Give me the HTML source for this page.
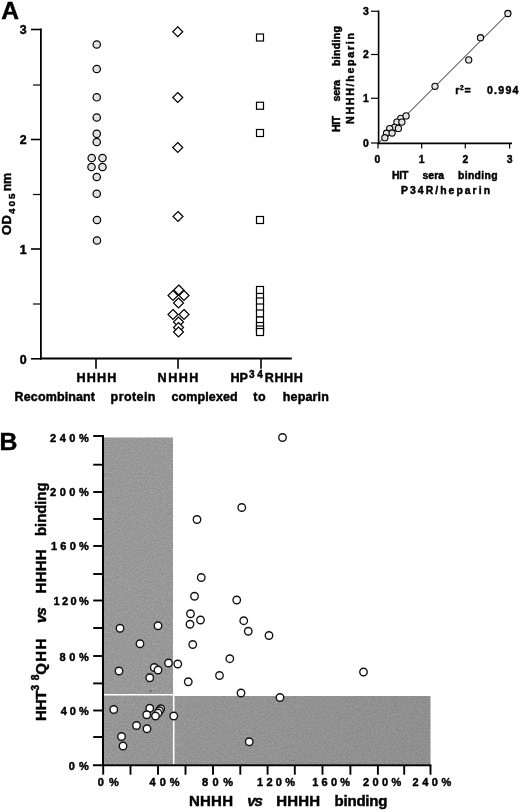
<!DOCTYPE html>
<html><head><meta charset="utf-8"><title>Figure</title>
<style>
html,body{margin:0;padding:0;background:#fff;}
body{width:520px;height:812px;overflow:hidden;}
svg{display:block;}
text{font-family:"Liberation Sans",Arial,Helvetica,sans-serif;font-weight:bold;fill:#000;stroke:#000;stroke-width:0.45px;stroke-linejoin:round;}
.ax{stroke:#000;stroke-width:2;fill:none;stroke-linecap:butt;}
.tk{stroke:#000;stroke-width:1.6;fill:none;}
.tkm{stroke:#000;stroke-width:1.2;fill:none;}
.c{fill:#e2e2e2;stroke:#000;stroke-width:1.2;}
.w{fill:#fff;stroke:#000;stroke-width:1.2;}
.ci{fill:#e2e2e2;stroke:#000;stroke-width:1.1;}
.cb{fill:#fff;stroke:#111;stroke-width:1.35;}
</style></head><body>
<svg width="520" height="812" viewBox="0 0 520 812">
<rect width="520" height="812" fill="#fff"/>
<g id="panelA">
<text x="1.3" y="18.9" font-size="24.6" >A</text>
<path class="ax" style="stroke-width:1.8" d="M40.9 28.6V359.4"/>
<path class="ax" style="stroke-width:1.8" d="M40 358.5H291.8"/>
<path class="tk" d="M31 358.8H41"/>
<path class="tk" d="M31 29.5H41"/>
<path class="tk" d="M31 139.5H41"/>
<path class="tk" d="M31 249H41"/>
<path class="tkm" d="M33 85H41"/>
<path class="tkm" d="M33 194.5H41"/>
<path class="tkm" d="M33 304H41"/>
<text x="26.6" y="33.6" font-size="12.4" text-anchor="end" >3</text>
<text x="26.6" y="144.2" font-size="12.4" text-anchor="end" >2</text>
<text x="26.6" y="253.6" font-size="12.4" text-anchor="end" >1</text>
<text x="26.6" y="364.4" font-size="12.4" text-anchor="end" >0</text>
<path class="tk" d="M96 358.5V368.7"/>
<path class="tk" d="M178 358.5V368.7"/>
<path class="tk" d="M261 358.5V368.7"/>
<text x="76.4" y="381.6" font-size="12.6" textLength="40" lengthAdjust="spacing" >HHHH</text>
<text x="157.6" y="381.6" font-size="12.6" textLength="40.7" lengthAdjust="spacing" >NHHH</text>
<text x="230.4" y="381.6" font-size="12.6" textLength="17.6" lengthAdjust="spacing" >HP</text>
<text x="249" y="378.2" font-size="10" >3</text>
<text x="257.3" y="378.2" font-size="10" >4</text>
<text x="264.8" y="381.6" font-size="12.6" textLength="38" lengthAdjust="spacing" >RHHH</text>
<text x="14.6" y="401.2" font-size="12.5" textLength="80.4" lengthAdjust="spacing" >Recombinant</text>
<text x="110.6" y="401.2" font-size="12.5" textLength="44.8" lengthAdjust="spacing" >protein</text>
<text x="171.4" y="401.2" font-size="12.5" textLength="66.3" lengthAdjust="spacing" >complexed</text>
<text x="253.2" y="401.2" font-size="12.5" textLength="12.4" lengthAdjust="spacing" >to</text>
<text x="282.8" y="401.2" font-size="12.5" textLength="46" lengthAdjust="spacing" >heparin</text>
<g transform="translate(11,235.6) rotate(-90)"><text x="0.5" y="0" font-size="13" textLength="20" lengthAdjust="spacing" >OD</text>
<text x="21.7" y="3.9" font-size="9.8" >4</text>
<text x="29.1" y="3.9" font-size="9.8" >0</text>
<text x="36.5" y="3.9" font-size="9.8" >5</text>
<text x="44.3" y="0" font-size="12.5" textLength="18.4" lengthAdjust="spacing" >nm</text>
</g>
<circle class="c" cx="96.75" cy="44.5" r="3.7"/>
<circle class="c" cx="96.75" cy="69" r="3.7"/>
<circle class="c" cx="96.75" cy="97.3" r="3.7"/>
<circle class="c" cx="96.75" cy="117.5" r="3.7"/>
<circle class="c" cx="96.75" cy="133.8" r="3.7"/>
<circle class="c" cx="96.75" cy="142" r="3.7"/>
<circle class="c" cx="91.7" cy="158" r="3.7"/>
<circle class="c" cx="102.5" cy="158" r="3.7"/>
<circle class="c" cx="91.5" cy="167" r="3.7"/>
<circle class="c" cx="102.5" cy="167" r="3.7"/>
<circle class="c" cx="96.75" cy="177" r="3.7"/>
<circle class="c" cx="96.75" cy="193.75" r="3.7"/>
<circle class="c" cx="97" cy="220" r="3.7"/>
<circle class="c" cx="97" cy="240.5" r="3.7"/>
<path class="w" d="M177.75 26.75L182.75 31.75L177.75 36.75L172.75 31.75Z"/>
<path class="w" d="M177.75 92.5L182.75 97.5L177.75 102.5L172.75 97.5Z"/>
<path class="w" d="M177.75 142.5L182.75 147.5L177.75 152.5L172.75 147.5Z"/>
<path class="w" d="M178 211.5L183.0 216.5L178 221.5L173.0 216.5Z"/>
<path class="w" d="M178.75 285.0L183.75 290L178.75 295.0L173.75 290Z"/>
<path class="w" d="M173 290.5L178.0 295.5L173 300.5L168.0 295.5Z"/>
<path class="w" d="M184 290.5L189.0 295.5L184 300.5L179.0 295.5Z"/>
<path class="w" d="M178.5 298.0L183.5 303L178.5 308.0L173.5 303Z"/>
<path class="w" d="M173 309.5L178.0 314.5L173 319.5L168.0 314.5Z"/>
<path class="w" d="M184 309.5L189.0 314.5L184 319.5L179.0 314.5Z"/>
<path class="w" d="M178.5 317.0L183.5 322L178.5 327.0L173.5 322Z"/>
<path class="w" d="M178.5 322.5L183.5 327.5L178.5 332.5L173.5 327.5Z"/>
<path class="w" d="M178.5 327.0L183.5 332L178.5 337.0L173.5 332Z"/>
<rect class="w" x="256.5" y="34.0" width="7" height="7"/>
<rect class="w" x="256.5" y="102.25" width="7" height="7"/>
<rect class="w" x="256.5" y="129.5" width="7" height="7"/>
<rect class="w" x="256.5" y="216.5" width="7" height="7"/>
<rect class="w" x="256.5" y="286.5" width="7" height="7"/>
<rect class="w" x="256.5" y="293.5" width="7" height="7"/>
<rect class="w" x="256.5" y="298.0" width="7" height="7"/>
<rect class="w" x="256.5" y="304.0" width="7" height="7"/>
<rect class="w" x="256.5" y="310.0" width="7" height="7"/>
<rect class="w" x="256.5" y="317.0" width="7" height="7"/>
<rect class="w" x="256.5" y="322.5" width="7" height="7"/>
<rect class="w" x="256.5" y="326.0" width="7" height="7"/>
<rect class="w" x="256.5" y="328.5" width="7" height="7"/>
</g>
<g id="inset">
<path class="ax" style="stroke-width:1.6" d="M378.6 10.5V144.2"/>
<path class="tkm" d="M371 143H378.5"/>
<path class="tkm" d="M378 143V148.5"/>
<path class="ax" style="stroke-width:1.6" d="M377.8 143.4H512"/>
<path class="tkm" d="M371 11.25H378.5"/>
<path class="tkm" d="M371 54.5H378.5"/>
<path class="tkm" d="M371 98.25H378.5"/>
<text x="368.8" y="15.05" font-size="10.4" text-anchor="end" >3</text>
<text x="368.8" y="58.3" font-size="10.4" text-anchor="end" >2</text>
<text x="368.8" y="102.05" font-size="10.4" text-anchor="end" >1</text>
<text x="368.8" y="146.8" font-size="10.4" text-anchor="end" >0</text>
<text x="377.5" y="162.5" font-size="10.4" text-anchor="middle" >0</text>
<path class="tkm" d="M421.7 143V148.5"/>
<text x="421.7" y="162.5" font-size="10.4" text-anchor="middle" >1</text>
<path class="tkm" d="M465.3 143V148.5"/>
<text x="465.3" y="162.5" font-size="10.4" text-anchor="middle" >2</text>
<path class="tkm" d="M509.6 143V148.5"/>
<text x="509.6" y="162.5" font-size="10.4" text-anchor="middle" >3</text>
<path d="M378.5 143L509 12.5" stroke="#111" stroke-width="0.95" fill="none"/>
<circle class="ci" cx="507.9" cy="13.5" r="3.1"/>
<circle class="ci" cx="480.5" cy="37.7" r="3.1"/>
<circle class="ci" cx="468.7" cy="59.9" r="3.1"/>
<circle class="ci" cx="435" cy="86.3" r="3.1"/>
<circle class="ci" cx="400.8" cy="118.3" r="3.1"/>
<circle class="ci" cx="406.1" cy="115.9" r="3.1"/>
<circle class="ci" cx="396.9" cy="122.1" r="3.1"/>
<circle class="ci" cx="401.9" cy="122.1" r="3.1"/>
<circle class="ci" cx="394.5" cy="127.4" r="3.1"/>
<circle class="ci" cx="389.7" cy="128.6" r="3.1"/>
<circle class="ci" cx="398.4" cy="128.4" r="3.1"/>
<circle class="ci" cx="386.5" cy="133.2" r="3.1"/>
<circle class="ci" cx="392.1" cy="133" r="3.1"/>
<circle class="ci" cx="384.9" cy="137.7" r="3.1"/>
<text x="392" y="179" font-size="10.4" textLength="16.3" lengthAdjust="spacing" >HIT</text>
<text x="422.5" y="179" font-size="10.4" textLength="21.6" lengthAdjust="spacing" >sera</text>
<text x="458" y="179" font-size="10.4" textLength="39.6" lengthAdjust="spacing" >binding</text>
<text x="401" y="194" font-size="10.4" textLength="89" lengthAdjust="spacing" >P34R/heparin</text>
<text x="455.2" y="93.8" font-size="10.6" >r</text>
<text x="459.9" y="89.6" font-size="6.5" >2</text>
<text x="464.4" y="93.8" font-size="10.6" textLength="6.8" lengthAdjust="spacing" >=</text>
<text x="487" y="93.8" font-size="10.6" textLength="31.4" lengthAdjust="spacing" >0.994</text>
<g transform="translate(340,131) rotate(-90)"><text x="-1" y="0" font-size="10.6" textLength="16.2" lengthAdjust="spacing" >HIT</text>
<text x="29.5" y="0" font-size="10.6" textLength="21.5" lengthAdjust="spacing" >sera</text>
<text x="65" y="0" font-size="10.6" textLength="40" lengthAdjust="spacing" >binding</text>
</g>
<g transform="translate(354,124) rotate(-90)"><text x="0" y="0" font-size="10.6" textLength="91" lengthAdjust="spacing" >NHHH/heparin</text>
</g>
</g>
<g id="panelB">
<text x="-0.4" y="449.9" font-size="24.8" >B</text>
<defs><linearGradient id="gg" x1="104" x2="430" y1="0" y2="0" gradientUnits="userSpaceOnUse"><stop offset="0" stop-color="#a4a4a4"/><stop offset="1" stop-color="#9c9c9c"/></linearGradient><filter id="nz" x="0" y="0" width="100%" height="100%" color-interpolation-filters="sRGB"><feTurbulence type="fractalNoise" baseFrequency="0.75" numOctaves="2" seed="7" result="t"/><feColorMatrix in="t" type="matrix" values="0 0 0 0 0  0 0 0 0 0  0 0 0 0 0  0.36 0 0 0 -0.1" result="a"/><feComposite in="a" in2="SourceGraphic" operator="in" result="m"/><feMerge><feMergeNode in="SourceGraphic"/><feMergeNode in="m"/></feMerge></filter></defs>
<g filter="url(#nz)"><rect x="104" y="437.5" width="69" height="259" fill="#a6a6a6"/>
<rect x="104" y="696" width="326.5" height="68.5" fill="url(#gg)"/></g>
<circle cx="150.6" cy="690.8" r="0.9" fill="#555"/>
<path d="M104 694.7H174.4" stroke="#fff" stroke-width="1.6"/>
<path d="M173.7 694V764.5" stroke="#fff" stroke-width="1.6"/>
<path class="ax" d="M103 435V766.3"/>
<path class="ax" d="M93 765.3H431.3"/>
<path class="tk" style="stroke-width:1.9" d="M93.2 436H103"/>
<path class="tk" style="stroke-width:1.9" d="M93.2 464.7H103"/>
<path class="tk" style="stroke-width:1.9" d="M93.2 492H103"/>
<path class="tk" style="stroke-width:1.9" d="M93.2 519H103"/>
<path class="tk" style="stroke-width:1.9" d="M93.2 546H103"/>
<path class="tk" style="stroke-width:1.9" d="M93.2 574H103"/>
<path class="tk" style="stroke-width:1.9" d="M93.2 600.5H103"/>
<path class="tk" style="stroke-width:1.9" d="M93.2 628H103"/>
<path class="tk" style="stroke-width:1.9" d="M93.2 656H103"/>
<path class="tk" style="stroke-width:1.9" d="M93.2 683.4H103"/>
<path class="tk" style="stroke-width:1.9" d="M93.2 710.5H103"/>
<path class="tk" style="stroke-width:1.9" d="M93.2 737H103"/>
<path class="tk" style="stroke-width:1.9" d="M103.2 765V774.7"/>
<path class="tk" style="stroke-width:1.9" d="M130.5 765V774.7"/>
<path class="tk" style="stroke-width:1.9" d="M158 765V774.7"/>
<path class="tk" style="stroke-width:1.9" d="M185.5 765V774.7"/>
<path class="tk" style="stroke-width:1.9" d="M213 765V774.7"/>
<path class="tk" style="stroke-width:1.9" d="M240.3 765V774.7"/>
<path class="tk" style="stroke-width:1.9" d="M267.6 765V774.7"/>
<path class="tk" style="stroke-width:1.9" d="M294.8 765V774.7"/>
<path class="tk" style="stroke-width:1.9" d="M322.5 765V774.7"/>
<path class="tk" style="stroke-width:1.9" d="M350.4 765V774.7"/>
<path class="tk" style="stroke-width:1.9" d="M377.9 765V774.7"/>
<path class="tk" style="stroke-width:1.9" d="M404.2 765V774.7"/>
<path class="tk" style="stroke-width:1.9" d="M430.5 765V774.7"/>
<text x="50" y="441.7" font-size="11" textLength="38.8" lengthAdjust="spacing" >240%</text>
<text x="50" y="495.8" font-size="11" textLength="38.8" lengthAdjust="spacing" >200%</text>
<text x="51" y="550" font-size="11" textLength="37.8" lengthAdjust="spacing" >160%</text>
<text x="53.5" y="604.5" font-size="11" textLength="35.3" lengthAdjust="spacing" >120%</text>
<text x="59.5" y="660.6" font-size="11" textLength="29.3" lengthAdjust="spacing" >80%</text>
<text x="60.7" y="715.4" font-size="11" textLength="28.1" lengthAdjust="spacing" >40%</text>
<text x="68.7" y="770" font-size="11" textLength="20.1" lengthAdjust="spacing" >0%</text>
<text x="97.7" y="786.1" font-size="11" textLength="21.1" lengthAdjust="spacing" >0%</text>
<text x="149.6" y="786.1" font-size="11" textLength="30.0" lengthAdjust="spacing" >40%</text>
<text x="202" y="786.1" font-size="11" textLength="31" lengthAdjust="spacing" >80%</text>
<text x="257" y="786.1" font-size="11" textLength="38" lengthAdjust="spacing" >120%</text>
<text x="312.3" y="786.1" font-size="11" textLength="37.7" lengthAdjust="spacing" >160%</text>
<text x="363" y="786.1" font-size="11" textLength="38.2" lengthAdjust="spacing" >200%</text>
<text x="412.5" y="786.1" font-size="11" textLength="38.7" lengthAdjust="spacing" >240%</text>
<text x="189.0" y="806.2" font-size="15" textLength="44" lengthAdjust="spacing" >NHHH</text>
<text x="247.3" y="806.2" font-size="15" textLength="15.6" lengthAdjust="spacing" font-style="italic">vs</text>
<text x="276.2" y="806.2" font-size="15" textLength="44" lengthAdjust="spacing" >HHHH</text>
<text x="334.6" y="806.2" font-size="15" textLength="52.8" lengthAdjust="spacing" >binding</text>
<g transform="translate(46,720) rotate(-90)"><text x="-1" y="0" font-size="15" textLength="30.5" lengthAdjust="spacing" >HHT</text>
<text x="29.3" y="-6.8" font-size="10.5" textLength="16.4" lengthAdjust="spacing" >38</text>
<text x="45.3" y="0" font-size="15" textLength="36" lengthAdjust="spacing" >QHH</text>
<text x="97" y="0" font-size="15" textLength="15.8" lengthAdjust="spacing" font-style="italic">vs</text>
<text x="126.6" y="0" font-size="15" textLength="44" lengthAdjust="spacing" >HHHH</text>
<text x="184" y="0" font-size="15" textLength="53.6" lengthAdjust="spacing" >binding</text>
</g>
<circle class="cb" cx="197" cy="519.5" r="3.75"/>
<circle class="cb" cx="201.25" cy="577.5" r="3.75"/>
<circle class="cb" cx="194.5" cy="596.25" r="3.75"/>
<circle class="cb" cx="190.5" cy="613.75" r="3.75"/>
<circle class="cb" cx="200.5" cy="620" r="3.75"/>
<circle class="cb" cx="190" cy="624.25" r="3.75"/>
<circle class="cb" cx="158" cy="625.75" r="3.75"/>
<circle class="cb" cx="120" cy="628.25" r="3.75"/>
<circle class="cb" cx="140" cy="643.75" r="3.75"/>
<circle class="cb" cx="192.75" cy="644.5" r="3.75"/>
<circle class="cb" cx="229.8" cy="658.7" r="3.75"/>
<circle class="cb" cx="168.5" cy="663" r="3.75"/>
<circle class="cb" cx="177.75" cy="664" r="3.75"/>
<circle class="cb" cx="154.25" cy="667.5" r="3.75"/>
<circle class="cb" cx="158" cy="670" r="3.75"/>
<circle class="cb" cx="119" cy="671" r="3.75"/>
<circle class="cb" cx="219.5" cy="675.5" r="3.75"/>
<circle class="cb" cx="149.75" cy="677.75" r="3.75"/>
<circle class="cb" cx="188.25" cy="681.75" r="3.75"/>
<circle class="cb" cx="113.75" cy="709.5" r="3.75"/>
<circle class="cb" cx="149.75" cy="708.25" r="3.75"/>
<circle class="cb" cx="160.75" cy="708.75" r="3.75"/>
<circle class="cb" cx="159.5" cy="710.75" r="3.75"/>
<circle class="cb" cx="158" cy="713" r="3.75"/>
<circle class="cb" cx="146.75" cy="714.75" r="3.75"/>
<circle class="cb" cx="155.5" cy="716" r="3.75"/>
<circle class="cb" cx="173.75" cy="716" r="3.75"/>
<circle class="cb" cx="136.5" cy="725.5" r="3.75"/>
<circle class="cb" cx="147" cy="728.75" r="3.75"/>
<circle class="cb" cx="121.5" cy="736.5" r="3.75"/>
<circle class="cb" cx="123" cy="746" r="3.75"/>
<circle class="cb" cx="282.5" cy="437.5" r="3.75"/>
<circle class="cb" cx="241.75" cy="507.5" r="3.75"/>
<circle class="cb" cx="236.75" cy="600" r="3.75"/>
<circle class="cb" cx="243.75" cy="620.7" r="3.75"/>
<circle class="cb" cx="248.25" cy="631.25" r="3.75"/>
<circle class="cb" cx="269" cy="635.5" r="3.75"/>
<circle class="cb" cx="241" cy="693" r="3.75"/>
<circle class="cb" cx="280" cy="697.5" r="3.75"/>
<circle class="cb" cx="249.25" cy="741.75" r="3.75"/>
<circle class="cb" cx="363.5" cy="672" r="3.75"/>
</g>
</svg>
</body></html>
